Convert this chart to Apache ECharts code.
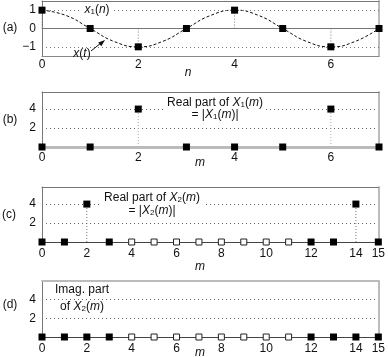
<!DOCTYPE html>
<html><head><meta charset="utf-8">
<script src="https://cdn.jsdelivr.net/npm/echarts@6/dist/echarts.min.js"></script>
<style>html,body{margin:0;padding:0;background:#fff}#c{width:388px;height:357px}</style>
</head><body><div id="c"></div>
<script>
// ---- data ----
const nA = [0, 1, 2, 3, 4, 5, 6, 7];
const x1n = [1, 0, -1, 0, 1, 0, -1, 0];
const tCurve = [0, 0.5, 1, 1.5, 2, 2.5, 3, 3.5, 4, 4.5, 5, 5.5, 6, 6.5, 7];
const xCurve = [1, 0.71, 0, -0.71, -1, -0.71, 0, 0.71, 1, 0.71, 0, -0.71, -1, -0.71, 0];
const mB = [0, 1, 2, 3, 4, 5, 6, 7];
const reX1 = [0, 0, 4, 0, 0, 0, 4, 0];
const mC = [0, 1, 2, 3, 4, 5, 6, 7, 8, 9, 10, 11, 12, 13, 14, 15];
const reX2 = [0, 0, 4, 0, 0, 0, 0, 0, 0, 0, 0, 0, 0, 0, 4, 0];
const imX2 = [0, 0, 0, 0, 0, 0, 0, 0, 0, 0, 0, 0, 0, 0, 0, 0];
const hollowM = [4, 5, 6, 7, 8, 9, 10, 11];
const yLabelsA = [-1, 0, 1];
const yLabelsB = [2, 4];
const xLabels8 = [0, 2, 4, 6];
const xLabels16 = [0, 2, 4, 6, 8, 10, 12, 14, 15];

// ---- helpers ----
const FF = '"Liberation Sans", Arial, Helvetica, sans-serif';
const pairs = (xs, ys) => xs.map((x, i) => [x, ys[i]]);
const filled = (xs, ys) => pairs(xs, ys).filter(p => !hollowM.includes(p[0]));
const hollow = (xs, ys) => pairs(xs, ys).filter(p => hollowM.includes(p[0]));
const nonZero = (xs, ys) => pairs(xs, ys).filter(p => p[1] !== 0);
const fmtNum = v => (v < 0 ? '\u2212' + Math.abs(v) : String(v));

const grids = [
  { left: 42, width: 337, top: 1, height: 55 },
  { left: 42, width: 337, top: 92, height: 55 },
  { left: 42, width: 337, top: 187, height: 55 },
  { left: 42, width: 337, top: 281, height: 56 }
];

function xBottom(g, max, labels, lineStyle, margin) {
  return {
    type: 'value', gridIndex: g, position: 'bottom', min: 0, max: max, interval: 1,
    axisLine: { show: true, onZero: false, lineStyle: lineStyle },
    axisTick: { show: false }, splitLine: { show: false },
    axisLabel: { show: true, interval: 0, hideOverlap: false, showMinLabel: true, showMaxLabel: true,
      margin: margin, color: '#111', fontFamily: FF, fontSize: 12,
      formatter: v => (labels.includes(v) ? String(v) : '') }
  };
}
function xTop(g, max, lineStyle) {
  return {
    type: 'value', gridIndex: g, position: 'top', min: 0, max: max,
    axisLine: { show: true, onZero: false, lineStyle: lineStyle },
    axisTick: { show: false }, splitLine: { show: false }, axisLabel: { show: false }
  };
}
function yLeft(g, min, max, interval, labels, split) {
  return {
    type: 'value', gridIndex: g, position: 'left', min: min, max: max, interval: interval,
    axisLine: { show: true, onZero: false, lineStyle: { color: '#777', width: 1 } },
    axisTick: { show: false },
    splitLine: { show: split, lineStyle: { color: '#666', type: [1, 3], width: 1 } },
    axisLabel: { show: true, margin: 6, color: '#111', fontFamily: FF, fontSize: 12,
      showMinLabel: true, showMaxLabel: true,
      formatter: v => (labels.includes(v) ? fmtNum(v) : '') }
  };
}
function yRight(g, min, max) {
  return {
    type: 'value', gridIndex: g, position: 'right', min: min, max: max,
    axisLine: { show: true, onZero: false, lineStyle: { color: '#bbb', width: 2 } },
    axisTick: { show: false }, splitLine: { show: false }, axisLabel: { show: false }
  };
}
function stems(g, data, color) {
  return {
    type: 'custom', xAxisIndex: g * 2, yAxisIndex: g * 2, z: 3, silent: true,
    data: data,
    renderItem: (params, api) => {
      const p0 = api.coord([api.value(0), 0]);
      const p1 = api.coord([api.value(0), api.value(1)]);
      return { type: 'line', shape: { x1: p0[0], y1: p0[1], x2: p1[0], y2: p1[1] },
        style: { stroke: color, lineWidth: 1, lineDash: [1, 2] } };
    }
  };
}
function filledMarks(g, data) {
  return { type: 'scatter', xAxisIndex: g * 2, yAxisIndex: g * 2, z: 10, symbol: 'rect', symbolSize: 7,
    itemStyle: { color: '#000', opacity: 1 }, data: data, silent: true };
}
function hollowMarks(g, data) {
  return { type: 'scatter', xAxisIndex: g * 2, yAxisIndex: g * 2, z: 10, symbol: 'rect', symbolSize: 6,
    itemStyle: { color: '#fff', borderColor: '#222', borderWidth: 1, opacity: 1 }, data: data, silent: true };
}
function zeroLine(g, max) {
  return { type: 'line', xAxisIndex: g * 2, yAxisIndex: g * 2, z: 2, showSymbol: false, silent: true,
    lineStyle: { color: '#444', width: 1 }, data: [[0, 0], [max, 0]] };
}

const richBase = {
  i: { fontStyle: 'italic', fontFamily: FF, fontSize: 12, fill: '#111' },
  s: { fontFamily: FF, fontSize: 8, verticalAlign: 'bottom', lineHeight: 5, fill: '#111' }
};
function txt(x, y, text, extra) {
  return { type: 'text', x: x, y: y, z: 100,
    style: Object.assign({ text: text, fill: '#111', fontFamily: FF, fontSize: 12,
      align: 'center', verticalAlign: 'middle', rich: richBase }, extra || {}) };
}
const bg = { backgroundColor: '#fff', padding: [1, 3, 1, 3] };

const option = {
  animation: false,
  backgroundColor: '#fff',
  grid: grids,
  xAxis: [
    xBottom(0, 7, xLabels8, { color: '#888', width: 1 }, 3), xTop(0, 7, { color: '#777', width: 1 }),
    xBottom(1, 7, xLabels8, { color: '#bbb', width: 3 }, 5), xTop(1, 7, { color: '#777', width: 1 }),
    xBottom(2, 15, xLabels16, { color: '#444', width: 1 }, 6), xTop(2, 15, { color: '#777', width: 1 }),
    xBottom(3, 15, xLabels16, { color: '#444', width: 1 }, 6), xTop(3, 15, { color: '#bbb', width: 2 })
  ],
  yAxis: [
    yLeft(0, -1.5, 1.5, 0.5, yLabelsA, false), yRight(0, -1.5, 1.5),
    yLeft(1, 0, 5.8, 2, yLabelsB, true), yRight(1, 0, 5.8),
    yLeft(2, 0, 5.8, 2, yLabelsB, true), yRight(2, 0, 5.8),
    yLeft(3, 0, 6, 2, yLabelsB, true), yRight(3, 0, 6)
  ],
  series: [
    // (a)
    { type: 'line', xAxisIndex: 0, yAxisIndex: 0, z: 4, smooth: 0.5, showSymbol: false, silent: true,
      lineStyle: { color: '#111', width: 1, type: [3, 2] }, data: pairs(tCurve, xCurve),
      markLine: { silent: true, symbol: 'none', label: { show: false }, animation: false,
        data: [
          { yAxis: 1, lineStyle: { color: '#777', type: [1, 3], width: 1 } },
          { yAxis: -1, lineStyle: { color: '#777', type: [1, 3], width: 1 } },
          { yAxis: 0, lineStyle: { color: '#777', type: 'solid', width: 1 } }
        ] } },
    stems(0, nonZero(nA, x1n), '#777'),
    filledMarks(0, pairs(nA, x1n)),
    // (b)
    stems(1, nonZero(mB, reX1), '#aaa'),
    filledMarks(1, pairs(mB, reX1)),
    // (c)
    stems(2, nonZero(mC, reX2), '#777'),
    filledMarks(2, filled(mC, reX2)),
    hollowMarks(2, hollow(mC, reX2)),
    // (d)
    filledMarks(3, filled(mC, imX2)),
    hollowMarks(3, hollow(mC, imX2))
  ],
  graphic: [
    txt(10, 28, '(a)'), txt(10, 120, '(b)'), txt(9, 215, '(c)'), txt(10, 305, '(d)'),
    txt(97, 10, '{i|x}{s|1}({i|n})', bg),
    txt(82, 54, '{i|x}(' + '{i|t})'),
    { type: 'polyline', z: 100, shape: { points: [[91, 51], [101, 43]] }, style: { stroke: '#111', lineWidth: 1, fill: null } },
    { type: 'polygon', z: 100, shape: { points: [[105, 40], [101.3, 46.2], [98.2, 42.4]] }, style: { fill: '#111' } },
    txt(188, 73, '{i|n}'),
    txt(215, 103, 'Real part of {i|X}{s|1}({i|m})', bg),
    txt(215, 115, '= |{i|X}{s|1}({i|m})|', bg),
    txt(200, 163, '{i|m}'),
    txt(152, 198, 'Real part of {i|X}{s|2}({i|m})', bg),
    txt(152, 211, '= |{i|X}{s|2}({i|m})|', bg),
    txt(200, 267, '{i|m}'),
    txt(82, 290, 'Imag. part', bg),
    txt(82, 307, 'of {i|X}{s|2}({i|m})', bg),
    txt(200, 353, '{i|m}')
  ]
};
const chart = echarts.init(document.getElementById('c'), null, { renderer: 'canvas' });
chart.setOption(option);
</script></body></html>
